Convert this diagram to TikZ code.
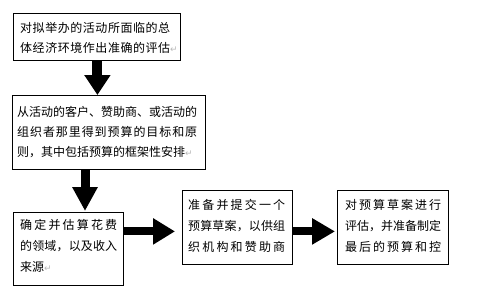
\documentclass[tikz,border=0pt]{standalone}
\usepackage{fontspec}
\newfontfamily\cjk{Noto Sans CJK SC}
\newfontfamily\dvs{DejaVu Sans}
\usetikzlibrary{arrows.meta,calc}
\def\spEnd{}
\def\spA#1{\ifx#1\spEnd\else\hfil#1\expandafter\spA\fi}
\def\spFirst#1{#1\spA}
\newcommand\spr[1]{\makebox[\linewidth][s]{\spFirst#1\spEnd}}
\newcommand\sprw[2]{\makebox[#1][s]{\spFirst#2\spEnd}}
\newcommand\ret{{\dvs\fontsize{9pt}{9pt}\selectfont\color{gray!55}↵}}
\tikzset{
  boxst/.style={draw, line width=0.8pt, inner sep=0pt, anchor=north west},
  txt/.style={inner sep=0pt, anchor=north west, align=left},
  fa/.style={font=\cjk\fontsize{12pt}{20pt}\selectfont},
  fb/.style={font=\cjk\fontsize{12pt}{21pt}\selectfont},
  blockarrow/.style={line width=#1, draw=black},
}
\begin{document}
\begin{tikzpicture}[x=1pt,y=1pt]
\useasboundingbox[fill=white] (0,0) rectangle (479,-295);
% boxes
\node[boxst, minimum width=167pt, minimum height=47pt] (b1) at (13,-13) {};
\node[boxst, minimum width=193pt, minimum height=74pt] (b2) at (12,-95) {};
\node[boxst, minimum width=110pt, minimum height=73pt] (b3) at (13,-212) {};
\node[boxst, minimum width=110pt, minimum height=74pt] (b4) at (182,-190) {};
\node[boxst, minimum width=111pt, minimum height=74pt] (b5) at (337,-190) {};
% texts
\node[txt, fa, text width=150pt] (t1) at ($(b1.north west)+(7,-9.5)$)
  {\spr{对拟举办的活动所面临的总}\\\sprw{150pt}{体经济环境作出准确的评估}\ret};
\node[txt, fa, text width=180pt] (t2) at ($(b2.north west)+(5,-11.5)$)
  {\spr{从活动的客户、赞助商、或活动的}\\\spr{组织者那里得到预算的目标和原}\\则，其中包括预算的框架性安排\ret};
\node[txt, fb, text width=97pt] (t3) at ($(b3.north west)+(7,-7.5)$)
  {\spr{确定并估算花费}\\\spr{的领域，以及收入}\\来源\ret};
\node[txt, fb, text width=97pt] (t4) at ($(b4.north west)+(6,-9.5)$)
  {\spr{准备并提交一个}\\\spr{预算草案，以供组}\\\spr{织机构和赞助商}};
\node[txt, fb, text width=96pt] (t5) at ($(b5.north west)+(8,-9.5)$)
  {\spr{对预算草案进行}\\\spr{评估，并准备制定}\\\spr{最后的预算和控}};
% arrows
\coordinate (a1s) at ($(b1.south)+(0.5,0)$);
\draw[blockarrow=10pt, -{Triangle[width=25pt,length=20pt]}] (a1s) -- (a1s |- b2.north);
\coordinate (a2s) at ($(b2.south west)+(73,0)$);
\coordinate (a2e) at ($(a2s |- b3.north)+(0,1)$);
\draw[blockarrow=9pt, -{Triangle[width=24pt,length=24pt]}] (a2s) -- (a2e);
\coordinate (a3e) at ($(b4.west)+(-7,-4)$);
\draw[blockarrow=8pt, -{Triangle[width=25pt,length=22pt]}] (b3.east |- a3e) -- (a3e);
\coordinate (a4e) at ($(b5.west)+(-2,-4)$);
\draw[blockarrow=8pt, -{Triangle[width=25pt,length=23pt]}] (b4.east |- a4e) -- (a4e);
\end{tikzpicture}
\end{document}
